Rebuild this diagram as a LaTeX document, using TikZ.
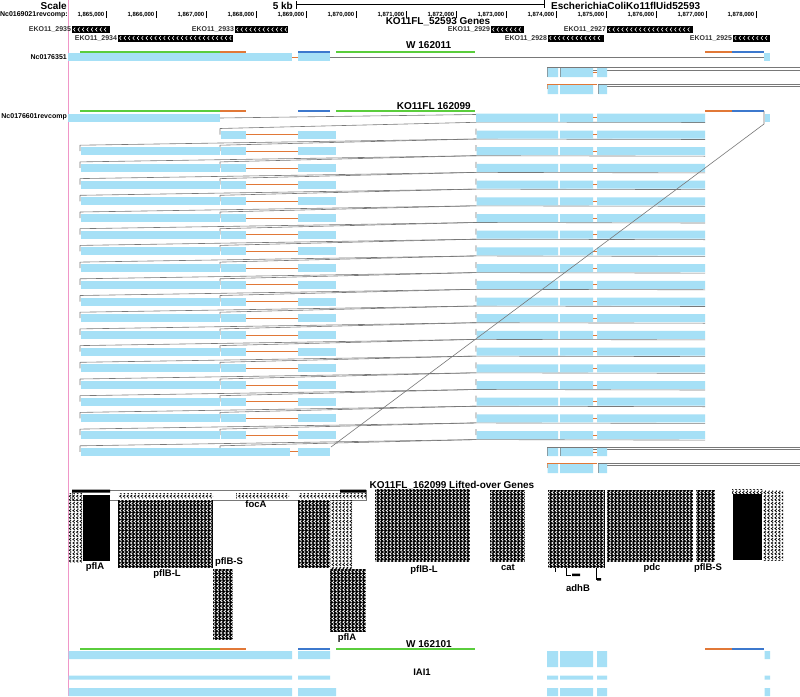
\documentclass[tikz,border=0pt]{standalone}
\usepackage{fontspec}
\setmainfont{Liberation Sans}
\usetikzlibrary{patterns}

\definecolor{alnblue}{RGB}{166,224,246}
\definecolor{netgreen}{RGB}{90,205,60}
\definecolor{netorange}{RGB}{225,120,55}
\definecolor{netblue}{RGB}{60,120,205}
\definecolor{chaingray}{RGB}{120,120,120}
\definecolor{guidepink}{RGB}{240,150,200}

\pgfdeclarepatternformonly{chevrons}{\pgfqpoint{-0.1pt}{-0.1pt}}{\pgfqpoint{3.7pt}{3.7pt}}{\pgfqpoint{3.6pt}{3.6pt}}{%
  \pgfsetlinewidth{0.75pt}%
  \pgfpathmoveto{\pgfqpoint{2.7pt}{0.5pt}}%
  \pgfpathlineto{\pgfqpoint{0.9pt}{1.8pt}}%
  \pgfpathlineto{\pgfqpoint{2.7pt}{3.1pt}}%
  \pgfusepath{stroke}}

% gene box with chevrons: x1, x2, ymid, label, name
\newcommand{\ekogene}[5]{%
  \fill (#1,#3-3.5) rectangle (#2,#3+3.5);
  \pgfmathtruncatemacro\nchev{(#2-#1-4.5)/4.4}
  \foreach \i in {0,...,\nchev}
    \draw[white,line width=0.55pt] ({#1+3.2+4.4*\i},#3-2) -- ({#1+1.6+4.4*\i},#3) -- ({#1+3.2+4.4*\i},#3+2);
  \node[genelbl] (#5) at (#1-0.8,#3) {#4};
}

\begin{document}
\begin{tikzpicture}[x=1pt,y=-1pt,
   aln/.style={fill=alnblue},
   chainline/.style={draw=chaingray,line width=0.6pt},
   insline/.style={draw=netorange,line width=0.8pt},
   netbar/.style={line width=2pt},
   ruler/.style={draw=black,line width=0.6pt},
   lifted/.style={preaction={fill=black},pattern=chevrons,pattern color=white},
   txtcol/.style={pattern=chevrons,pattern color=black},
   ttl/.style={font=\fontsize{10}{12}\selectfont\bfseries,inner sep=0pt},
   trk/.style={font=\fontsize{7}{8}\selectfont\bfseries,inner sep=0pt,anchor=east},
   coordlbl/.style={font=\fontsize{6}{7}\selectfont\bfseries,inner sep=0pt,anchor=east},
   genename/.style={font=\fontsize{9.5}{10}\selectfont\bfseries,inner sep=0pt},
   genelbl/.style={font=\fontsize{7}{8}\selectfont\bfseries,text=black!80,inner sep=0pt,anchor=east}
 ]
  \useasboundingbox[fill=white] (0,0) rectangle (800,696);
  \draw[guidepink,line width=0.8pt] (68,0) -- (68,696);

  % ruler
  \node[ttl,anchor=east] (scale) at (67,5.5) {Scale};
  \node[ttl,anchor=east] (kb) at (293,5.5) {5 kb};
  \draw[ruler] (296,1) -- (296,9);
  \draw[ruler,line width=0.4pt] (296,4.5) -- (544,4.5);
  \draw[ruler] (544,0) -- (544,8);
  \node[ttl,anchor=west] (asm) at (551,5.5) {EscherichiaColiKo11flUid52593};
  \node[trk] (chrom) at (68,15) {Nc0169021revcomp:};
  \foreach \i in {0,...,13}{
    \pgfmathtruncatemacro\kb{65+\i}
    \draw[ruler] (106+50*\i,11) -- (106+50*\i,18);
    \node[coordlbl] (pos\i) at (104.5+50*\i,15) {1,8\kb,000};
  }

  % genes
  \node[ttl] (genes) at (438,21.5) {KO11FL\_52593 Genes};
  \ekogene{72}{110}{29.5}{EKO11\_2935}{g2935}
  \ekogene{118}{233}{38}{EKO11\_2934}{g2934}
  \ekogene{235}{288}{29.5}{EKO11\_2933}{g2933}
  \ekogene{491}{524}{29.5}{EKO11\_2929}{g2929}
  \ekogene{548}{604}{38}{EKO11\_2928}{g2928}
  \ekogene{607}{693}{29.5}{EKO11\_2927}{g2927}
  \ekogene{733}{770}{38}{EKO11\_2925}{g2925}

  % net bars
  \foreach \yb in {51.5,111,649}{
    \draw[netbar,netgreen] (80,\yb) -- (220,\yb);
    \draw[netbar,netorange] (220,\yb) -- (246,\yb);
    \draw[netbar,netblue] (298,\yb) -- (330,\yb);
    \draw[netbar,netgreen] (336,\yb) -- (475,\yb);
    \draw[netbar,netorange] (705,\yb) -- (732,\yb);
    \draw[netbar,netblue] (732,\yb) -- (764,\yb);
  }
  \node[ttl,anchor=west] (w1) at (406,45.5) {W 162011};
  \node[ttl,anchor=east] (ko1) at (471,106.5) {KO11FL 162099};
  \node[ttl,anchor=west] (w2) at (406,644) {W 162101};

  % Nc0176351
  \node[trk] (nc1) at (67,57.5) {Nc0176351};
  \path[aln] (68,53) rectangle (292,61);
  \draw[insline] (292,57) -- (298,57);
  \path[aln] (298,53) rectangle (330,61);
  \draw[chainline] (330,57.5) -- (764,57.5);
  \path[aln] (764,53) rectangle (770,61);
  % side rows
  \draw[chainline] (547,67.5) -- (800,67.5) (560,70) -- (800,70);
  \draw[chainline] (547,67.5) -- (547,77) (560,67.5) -- (560,77);
  \path[aln] (547.5,68) rectangle (558,77) (560.5,68) rectangle (593,77) (597,68) rectangle (607,77);
  \draw[insline] (593,72.5) -- (597,72.5);
  \draw[insline] (547,89) -- (547,84) -- (597,84);
  \draw[chainline] (598,84) -- (800,84) (598,86.5) -- (800,86.5) (598,84) -- (598,94);
  \path[aln] (547.5,85) rectangle (558,94) (560,85) rectangle (593,94) (598.5,85) rectangle (607,94);

  % Nc0176601revcomp
  \node[trk] (nc2) at (67,117) {Nc0176601revcomp};
  \path[aln] (68,113.5) rectangle (220,121.5);
  \draw[chainline] (220,118) -- (476,114.5);
  \draw[chainline] (476,122) -- (705,122.5);
  \path[aln] (476,113.5) rectangle (558,122) (560,113.5) rectangle (593,122) (597,113.5) rectangle (705,122);
  \draw[insline] (593,117.5) -- (597,117.5);
  \path[aln] (764.5,113.5) rectangle (770,122);

  % chained rows
  \foreach \k in {0,...,19}{
    \pgfmathsetmacro\yc{134.5+16.7*\k}
    \pgfmathsetmacro\yp{\yc-16.7}
    \draw[chainline] (220,\yc-6) -- (476,\yp+4.5) (220,\yc-6) -- (220,\yc);
    \ifnum\k>0
      \draw[chainline] (80,\yc-6) -- (476,\yp+4.5) (80,\yc-6) -- (80,\yc);
    \fi
    \ifnum\k=19
      \path[aln] (80.5,\yc-4) rectangle (290,\yc+4);
      \draw[insline] (290,\yc) -- (298,\yc);
      \path[aln] (298,\yc-4) rectangle (330,\yc+4);
    \else
      \ifnum\k>0 \path[aln] (80.5,\yc-4) rectangle (219.5,\yc+4); \fi
      \path[aln] (220.5,\yc-4) rectangle (246,\yc+4);
      \draw[insline] (246,\yc) -- (298,\yc);
      \path[aln] (298,\yc-4) rectangle (336,\yc+4);
      \draw[chainline] (476,\yc-6) -- (476,\yc) (476,\yc+4.5) -- (705,\yc+5);
      \path[aln] (476.5,\yc-4) rectangle (558,\yc+4) (560,\yc-4) rectangle (593,\yc+4) (597,\yc-4) rectangle (705,\yc+4);
      \draw[insline] (593,\yc) -- (597,\yc);
    \fi
  }
  \draw[chainline] (764,111) -- (764,124) -- (331,447);
  % side rows
  \draw[chainline] (547,447) -- (800,447) (560,449.5) -- (800,449.5);
  \draw[chainline] (547,447) -- (547,456) (560,447) -- (560,456);
  \path[aln] (547.5,448) rectangle (558,456) (560.5,448) rectangle (593,456) (597,448) rectangle (607,456);
  \draw[insline] (593,452) -- (597,452);
  \draw[insline] (547,468) -- (547,463) -- (597,463);
  \draw[chainline] (598,463) -- (800,463) (598,465.5) -- (800,465.5) (598,463) -- (598,473);
  \path[aln] (547.5,464) rectangle (558,473) (560,464) rectangle (593,473) (598.5,464) rectangle (607,473);

  % lifted-over genes
  \node[ttl] (liftttl) at (452,485) {KO11FL\_162099 Lifted-over Genes};
  \draw[chainline,line width=0.4pt] (72,490) rectangle (366,500);
  \fill (72,489.5) rectangle (110,492.5) (340,489.5) rectangle (366,492.5);
  \path[txtcol] (118,493) rectangle (213,498.5) (236,493) rectangle (289,498.5) (298,493) rectangle (366,498.5);
  \path[txtcol] (68.5,493) rectangle (82,562);
  \fill (83,495) rectangle (110,561);
  \path[lifted] (118,500) rectangle (213,568);
  \path[lifted] (213,569) rectangle (233,640);
  \path[lifted] (298,500) rectangle (330,568);
  \path[txtcol] (330,500) rectangle (352,568);
  \path[lifted] (330,569) rectangle (366,632);
  \path[lifted] (375,489) rectangle (470,562);
  \path[lifted] (490,490) rectangle (525,562);
  \path[lifted] (548,490) rectangle (605,568);
  \path[lifted] (607,490) rectangle (693,562);
  \path[lifted] (696,490) rectangle (715,562);
  \path[txtcol] (732,489.5) rectangle (763,494);
  \fill (733,494) rectangle (762,560);
  \path[txtcol] (763,490) rectangle (783,560);
  \draw[line width=0.5pt] (566,568) -- (566,575) -- (571,575) (596,568) -- (596,580) (555,568) -- (555,572);
  \fill (572,573.5) rectangle (580,576) (597,578) rectangle (601,580.5);

  \node[genename] (pflA1) at (95,567) {pflA};
  \node[genename] (pflBL1) at (167,574) {pflB-L};
  \node[genename] (pflBS1) at (229,562) {pflB-S};
  \node[genename] (focA) at (256,504) {focA};
  \node[genename] (pflA2) at (347,638) {pflA};
  \node[genename] (pflBL2) at (424,570) {pflB-L};
  \node[genename] (cat) at (508,567) {cat};
  \node[genename] (adhB) at (578,588) {adhB};
  \node[genename] (pdc) at (652,568) {pdc};
  \node[genename] (pflBS2) at (708,568) {pflB-S};

  % IAI1
  \node[genename] (iai) at (422,672) {IAI1};
  \path[aln] (68.5,651) rectangle (292,659) (298,651) rectangle (330,659) (764.5,651) rectangle (770,659);
  \path[aln] (547,651) rectangle (558,667) (560,651) rectangle (593,667) (597,651) rectangle (607,667);
  \path[aln] (68.5,675.5) rectangle (292,679.5) (298,675.5) rectangle (330,679.5) (547,675.5) rectangle (558,679.5)
    (560,675.5) rectangle (593,679.5) (597,675.5) rectangle (607,679.5) (764.5,675.5) rectangle (770,679.5);
  \path[aln] (68.5,688) rectangle (292,696) (298,688) rectangle (336,696) (547,688) rectangle (558,696)
    (560,688) rectangle (593,696) (597,688) rectangle (607,696) (764.5,688) rectangle (770,696);
\end{tikzpicture}
\end{document}
